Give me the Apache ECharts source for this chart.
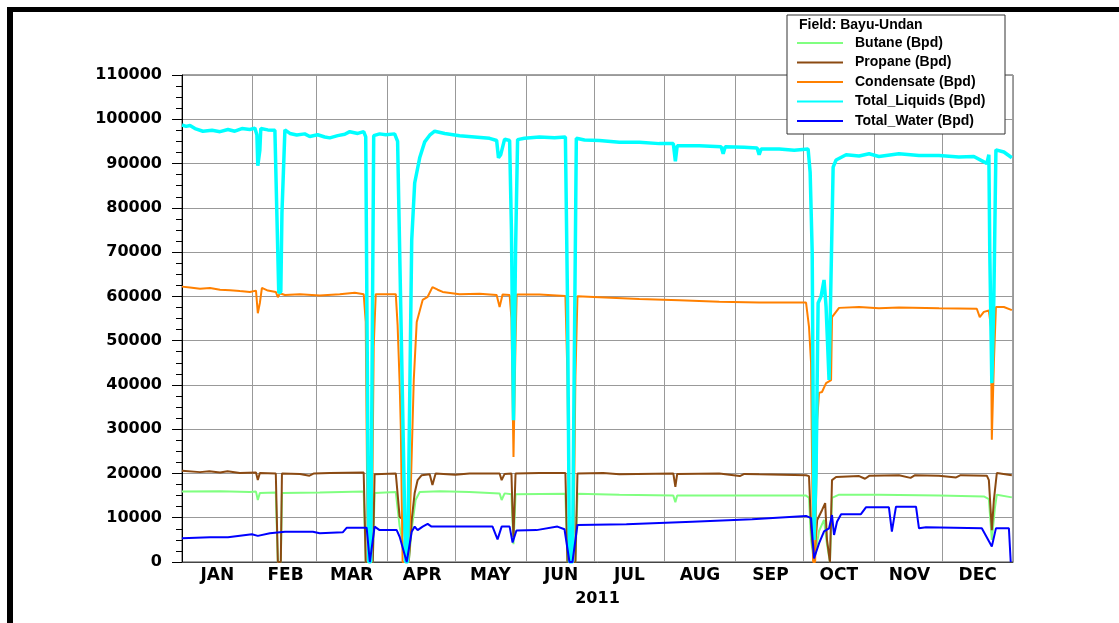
<!DOCTYPE html>
<html>
<head>
<meta charset="UTF-8">
<script type="text/javascript" src="https://cdn.jsdelivr.net/npm/echarts@6/dist/echarts.min.js"></script>
<title></title>
<style>
  html, body { margin: 0; padding: 0; background: #fff; }
</style>
</head>
<body>
<div id="main" style="width:1119px;height:623px"></div>
<script type="text/javascript">
// months of 2011
var monthNames = ['JAN', 'FEB', 'MAR', 'APR', 'MAY', 'JUN', 'JUL', 'AUG', 'SEP', 'OCT', 'NOV', 'DEC'];
var monthDays = [31, 28, 31, 30, 31, 30, 31, 31, 30, 31, 30, 31];

// [day of year (0 = 1 Jan 2011), Bpd]
var butane = [
  [0, 15900], [16.7, 16000], [29.8, 15800], [32.5, 15900], [33.3, 14000], [34.2, 15600],
  [41.2, 15700], [42.1, 0], [43.4, 0], [43.9, 15600], [60.5, 15700], [79.8, 15900],
  [80.7, 0], [83.8, 0], [84.6, 15600], [93.9, 15800], [95.6, 8000], [98.7, 0], [99.6, 0],
  [100.9, 7500], [102.6, 14000], [104.4, 15800], [113.2, 16000], [126.3, 15800],
  [139.5, 15500], [140.4, 14000], [141.7, 15500], [144.7, 15300], [145.6, 4000],
  [146.5, 15300], [168.4, 15400], [169.3, 0], [172.8, 0], [173.7, 15400], [192.1, 15200],
  [215.8, 15000], [216.7, 13500], [217.5, 15000], [236, 15000], [274.1, 15000],
  [275.4, 14500], [276.3, 5000], [277.6, 0], [279.8, 7000], [282, 9500], [283.3, 4000],
  [284.6, 0], [285.5, 14500], [288.6, 15200], [306.1, 15200], [332.5, 15000],
  [352.2, 14800], [354.4, 14200], [355.7, 5000], [357, 12000], [357.9, 15200], [364.5, 14600]
];
var propane = [
  [0, 20600], [7.9, 20300], [12, 20500], [16.7, 20200], [20, 20500], [25.4, 20100],
  [32.5, 20200], [33.3, 18500], [34.2, 20100], [41.2, 20000], [42.1, 0], [43.4, 0],
  [43.9, 20000], [51.8, 19900], [56, 19500], [58, 20000], [64.9, 20100], [79.8, 20200],
  [80.7, 0], [83.8, 0], [84.6, 19800], [93.9, 20000], [95.6, 10200], [97.4, 9500],
  [98.7, 0], [99.6, 0], [100.9, 9500], [102.2, 15600], [103.5, 18500], [105.3, 19600],
  [108.8, 19800], [110, 17400], [111.4, 20000], [120, 19700], [126.3, 20000],
  [139.5, 20000], [140.4, 18500], [141.7, 19900], [144.7, 20000], [145.2, 11000],
  [145.6, 5600], [146.5, 20000], [157, 20100], [168.4, 20100], [169.3, 0], [172.8, 0],
  [173.7, 20000], [185, 20100], [192.1, 19800], [215.8, 20000], [216.7, 17000],
  [217.5, 19900], [236, 20000], [245, 19400], [247, 19900], [253.5, 19800],
  [274.1, 19600], [275.4, 19400], [276.3, 7900], [277.6, 0], [279, 9500], [281.1, 11700],
  [282.5, 13300], [283.3, 5000], [284.6, 0], [285.5, 18500], [287.3, 19200],
  [297.4, 19400], [300, 18800], [302, 19500], [314.9, 19600], [320, 19000], [322, 19600],
  [332.5, 19500], [340, 19100], [342, 19600], [353.5, 19500], [354.4, 18500],
  [355.7, 7200], [356.6, 14000], [357.9, 20100], [364.5, 19600]
];
var condensate = [
  [0, 62200], [3.5, 62000], [7.9, 61700], [12.3, 61900], [16.7, 61500], [21.1, 61400],
  [25.4, 61200], [29.8, 61000], [32.5, 61300], [33.3, 56200], [34.2, 58500],
  [35.1, 61900], [37.7, 61300], [41.2, 61000], [42.1, 59800], [43, 60700], [45.2, 60300],
  [51.8, 60500], [60.5, 60200], [69.3, 60500], [75.9, 60800], [79.8, 60500],
  [80.7, 54200], [81.6, 0], [83.3, 0], [84.2, 48600], [85.1, 60500], [93.9, 60500],
  [94.7, 53500], [95.6, 40400], [96.1, 30500], [96.9, 0], [99.6, 0], [101.8, 41100],
  [103.1, 54200], [105.7, 59200], [107.9, 59900], [110, 62100], [112.3, 61500],
  [114.5, 61000], [121.9, 60500], [130.7, 60600], [138.2, 60300], [139.5, 57600],
  [140.8, 60400], [143.9, 60300], [144.7, 55000], [145.6, 23700], [146.5, 50000],
  [147, 60400], [157, 60400], [168.4, 60100], [169.3, 42000], [170.2, 0], [171.9, 0],
  [172.8, 42000], [173.7, 60000], [183.3, 59800], [200.9, 59400], [218.4, 59100],
  [236, 58800], [253.5, 58600], [274.1, 58600], [275.4, 53100], [276.3, 45000],
  [277.2, 0], [278.1, 0], [279, 32100], [279.8, 38200], [281.1, 38400], [282.9, 40400],
  [285.1, 41100], [285.5, 55300], [288.6, 57400], [297.4, 57600], [306.1, 57300],
  [314.9, 57500], [332.5, 57300], [349.1, 57200], [350.4, 55300], [352.2, 56500],
  [354.4, 56800], [355.3, 53100], [355.7, 27600], [356.6, 45000], [357.5, 57600],
  [361, 57600], [364.5, 56900]
];
var totalLiquids = [
  [0, 98700], [1.8, 98400], [3.5, 98600], [5.7, 97900], [9.2, 97300], [13.2, 97500],
  [16.7, 97200], [20.2, 97700], [23.2, 97300], [26.3, 97900], [29.8, 97700], [32, 98000],
  [32.9, 96500], [33.3, 89500], [34.2, 93000], [34.6, 97900], [37.7, 97600],
  [40.8, 97500], [41.7, 78000], [42.5, 60800], [43.4, 61000], [43.9, 78800],
  [45.2, 97600], [47.4, 96800], [50.4, 96450], [53.9, 96700], [56.1, 96100],
  [59.6, 96500], [62.7, 96000], [64.9, 95800], [68.4, 96300], [71.5, 96600],
  [73.7, 97200], [77.2, 96800], [79.8, 97200], [80.7, 96000], [82, 0], [82.9, 0],
  [84.2, 96300], [86.8, 96700], [89.5, 96500], [93.4, 96700], [94.7, 95000], [98.2, 0],
  [99.1, 0], [100.9, 72700], [102.2, 85600], [104.4, 91300], [106.6, 94900],
  [108.8, 96400], [111, 97300], [115.4, 96800], [121.9, 96300], [128.5, 96000],
  [135.1, 95700], [138.2, 95200], [139, 91300], [140, 92000], [141.7, 95500],
  [143.9, 95200], [144.7, 75000], [145.6, 32000], [146.5, 70000], [147.4, 95400],
  [150.4, 95700], [157, 96000], [163.6, 95800], [168.4, 96000], [169.3, 60000],
  [170.2, 0], [171.5, 0], [173.2, 95700], [176.8, 95300], [183.3, 95200], [192.1, 94800],
  [200.9, 94800], [209.6, 94500], [215.8, 94500], [216.7, 90500], [217.5, 94000],
  [227.2, 94000], [236.8, 93800], [237.7, 92200], [238.6, 93800], [246.9, 93700],
  [252.6, 93500], [253.5, 92000], [254.4, 93300], [262.3, 93300], [268.9, 93000],
  [275, 93300], [275.9, 88000], [276.8, 70000], [277.6, 5000], [278.5, 20000],
  [279.4, 58500], [280.7, 60000], [282, 63700], [282.9, 57600], [284.2, 41100],
  [285.1, 65300], [286, 89200], [287.3, 90800], [291.7, 92000], [297.4, 91700],
  [301.8, 92200], [306.1, 91600], [314.9, 92200], [323.7, 91800], [332.5, 91800],
  [341.2, 91500], [347.8, 91600], [351.8, 90500], [353.5, 90000], [354.4, 92000],
  [354.8, 70000], [355.7, 40400], [356.6, 60000], [357.5, 93100], [361, 92600],
  [364.5, 91300]
];
var totalWater = [
  [0, 5350], [12.3, 5580], [20.2, 5600], [30.7, 6250], [33.3, 5900], [38.6, 6500],
  [45.2, 6850], [57.5, 6850], [60.5, 6500], [70.6, 6700], [72.4, 7750], [81.1, 7750],
  [82.5, 0], [84.6, 8000], [86.8, 7200], [94.3, 7200], [95.6, 5700], [98.7, 0],
  [100.9, 6850], [102.2, 8000], [103.5, 7200], [105.7, 8000], [107.9, 8600],
  [109.6, 8000], [136.4, 8000], [138.6, 5100], [140.4, 8000], [143.9, 8000],
  [145.2, 4400], [146.9, 7100], [155.7, 7200], [164.9, 8000], [168, 7400], [170.2, 0],
  [171.5, 0], [173.7, 8360], [195.2, 8500], [224.1, 9100], [250.4, 9650], [274.1, 10400],
  [276.3, 9900], [277.6, 800], [279.8, 4200], [282, 6900], [284.2, 7600], [285.5, 10600],
  [286.4, 6100], [287.7, 9100], [289.5, 10800], [298.2, 10800], [300.4, 12350],
  [310.5, 12350], [311.8, 6850], [313.6, 12500], [314, 12900], [322.4, 12500],
  [323.7, 7600], [326.8, 7850], [351.3, 7600], [355.7, 3500], [357.5, 7600],
  [363.2, 7600], [364, 0]
];

var yearStart = Date.UTC(2011, 0, 1);
function toTime(list) {
    return list.map(function (p) { return [yearStart + p[0] * 86400000, p[1]]; });
}

// one category per day, used for month grid lines, ticks and labels
var dayCats = [];
var monthStart = {};
var monthMid = {};
for (var m = 0; m < 12; m++) {
    monthStart[dayCats.length] = true;
    monthMid[dayCats.length + Math.floor(monthDays[m] / 2)] = true;
    for (var j = 0; j < monthDays[m]; j++) dayCats.push(monthNames[m]);
}
monthStart[dayCats.length] = true;

var myChart = echarts.init(document.getElementById('main'));

var labelFont = 'DejaVu Sans';

option = {
    animation: false,
    backgroundColor: '#fff',
    grid: {
        left: 182, right: 106, top: 75, bottom: 61,
        show: true, borderColor: '#444', borderWidth: 1
    },
    legend: {
        orient: 'vertical',
        left: 792, top: 30,
        z: 20,
        icon: 'rect',
        itemWidth: 46, itemHeight: 2,
        itemGap: 3.5,
        textStyle: {
            fontFamily: 'Liberation Sans', fontWeight: 'bold', fontSize: 14,
            color: '#000', lineHeight: 16, padding: [0, 0, 0, 7]
        },
        data: ['Butane (Bpd)', 'Propane (Bpd)', 'Condensate (Bpd)', 'Total_Liquids (Bpd)', 'Total_Water (Bpd)']
    },
    graphic: [
        // black frame round the picture
        { type: 'rect', shape: { x: 7, y: 7, width: 1112, height: 5 }, style: { fill: '#000' }, z: 30 },
        { type: 'rect', shape: { x: 7, y: 7, width: 6, height: 616 }, style: { fill: '#000' }, z: 30 },
        // legend box
        { type: 'rect', shape: { x: 787, y: 15, width: 218, height: 119 },
          style: { fill: '#fff', stroke: '#333', lineWidth: 1 }, z: 10 },
        { type: 'text', x: 799, y: 18, z: 11,
          style: { text: 'Field: Bayu-Undan', fill: '#000', font: 'bold 14px "Liberation Sans"' } }
    ],
    xAxis: [{
        type: 'time',
        show: false,
        min: yearStart,
        max: Date.UTC(2012, 0, 1)
    }, {
        type: 'category',
        position: 'bottom',
        data: dayCats,
        boundaryGap: true,
        name: '2011',
        nameLocation: 'middle',
        nameGap: 29,
        nameTextStyle: { fontFamily: labelFont, fontWeight: 'bold', fontSize: 16, color: '#000' },
        axisLine: { lineStyle: { color: '#444', width: 1 } },
        axisTick: {
            length: 5,
            lineStyle: { color: '#000' },
            interval: function (i) { return !!monthStart[i]; }
        },
        axisLabel: {
            margin: 5,
            fontFamily: labelFont, fontWeight: 'bold', fontSize: 17, color: '#000',
            interval: function (i) { return !!monthMid[i]; }
        },
        splitLine: {
            show: true,
            interval: function (i) { return !!monthStart[i]; },
            lineStyle: { color: '#999', width: 1 }
        }
    }],
    yAxis: {
        type: 'value',
        min: 0, max: 110000, interval: 10000,
        axisLine: { show: true, lineStyle: { color: '#000' } },
        axisTick: { show: true, length: 10, lineStyle: { color: '#000' } },
        minorTick: { show: true, splitNumber: 4, length: 6, lineStyle: { color: '#000' } },
        axisLabel: {
            margin: 20,
            fontFamily: labelFont, fontWeight: 'bold', fontSize: 16, color: '#000',
            formatter: function (v) { return String(v); }
        },
        splitLine: { lineStyle: { color: '#999', width: 1 } }
    },
    series: [
        { name: 'Butane (Bpd)', type: 'line', xAxisIndex: 0, showSymbol: false,
          color: '#80ff80', lineStyle: { width: 2 }, data: toTime(butane) },
        { name: 'Propane (Bpd)', type: 'line', xAxisIndex: 0, showSymbol: false,
          color: '#8b4a12', lineStyle: { width: 2 }, data: toTime(propane) },
        { name: 'Condensate (Bpd)', type: 'line', xAxisIndex: 0, showSymbol: false,
          color: '#ff8000', lineStyle: { width: 2 }, data: toTime(condensate) },
        { name: 'Total_Liquids (Bpd)', type: 'line', xAxisIndex: 0, showSymbol: false,
          color: '#00ffff', lineStyle: { width: 3.5 }, data: toTime(totalLiquids) },
        { name: 'Total_Water (Bpd)', type: 'line', xAxisIndex: 0, showSymbol: false,
          color: '#0000ff', lineStyle: { width: 2 }, data: toTime(totalWater) }
    ]
};

myChart.setOption(option);
</script>
</body>
</html>
